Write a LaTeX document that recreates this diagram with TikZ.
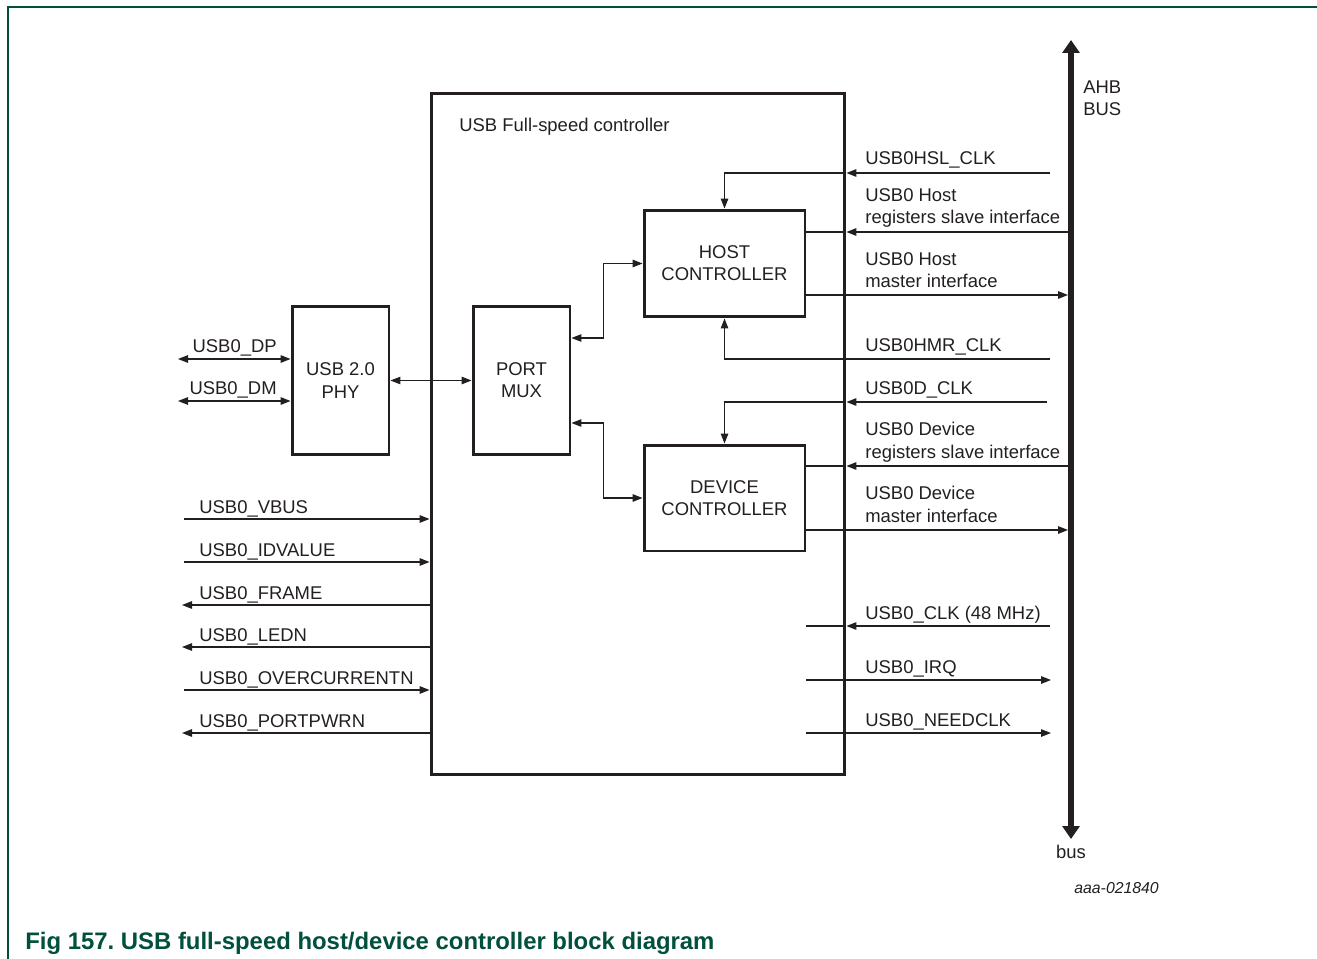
\documentclass[tikz,border=0pt]{standalone}
\usepackage{fontspec}
\setmainfont{Liberation Sans}
\usetikzlibrary{arrows.meta}
\definecolor{ink}{RGB}{35,31,32}
\definecolor{nxpgreen}{RGB}{0,80,60}

\begin{document}
\begin{tikzpicture}[
  x=0.02cm,y=-0.02cm,
  font=\fontsize{10.5}{12.6}\selectfont,
  every node/.style={text=ink},
  blk/.style={draw=ink,line width=1.7pt,inner sep=0pt,align=center},
  sig/.style={draw=ink,line width=0.75pt},
  lbl/.style={anchor=base west,inner sep=0pt,align=left},
  busline/.style={draw=ink,line width=3.6pt,
    {Triangle[length=2.6mm,width=3.4mm]}-{Triangle[length=2.6mm,width=3.4mm]}},
  >={Triangle[length=2mm,width=1.5mm]}]
\useasboundingbox (0,0) rectangle (1317,959);
\draw[nxpgreen,line width=1.1pt] (8,959) -- (8,7) -- (1317,7);
% blocks
\node[blk,minimum width=8.28cm,minimum height=13.64cm] (ctl) at (638,434) {};
\node[lbl] (ctllbl) at (459,132) {USB Full-speed controller};
\node[blk,minimum width=1.94cm,minimum height=2.98cm] (phy) at (340.5,380.5) {USB 2.0\\PHY};
\node[blk,minimum width=1.94cm,minimum height=2.98cm] (mux) at (521.5,380.5) {PORT\\MUX};
\node[blk,minimum width=3.22cm,minimum height=2.14cm] (host) at (724.5,263.5) {HOST\\CONTROLLER};
\node[blk,minimum width=3.22cm,minimum height=2.12cm] (device) at (724.5,498) {DEVICE\\CONTROLLER};
% AHB bus
\coordinate (busbot) at (1071,839);
\coordinate (bustop) at (1071,40);
\draw[busline] (busbot) -- (bustop);
\node[lbl] (buslbl) at (1083,116) {AHB\\BUS};
\node[anchor=base,inner sep=0pt] (buslow) at (1071,858) {bus};
% left side
\foreach \nm/\y/\t in {dp/359/USB0\_DP, dm/401/USB0\_DM} {
  \coordinate (\nm) at (178,\y);
  \draw[sig,<->] (\nm) -- (\nm -| phy.west);
  \node[anchor=base east,inner sep=0pt] (\nm lbl) at (277,\y-7) {\t};
}
\draw[sig,<->] (phy.east) -- (mux.west);
\foreach \nm/\y/\t in {vbus/519/USB0\_VBUS, idval/562/USB0\_IDVALUE, ovc/690/USB0\_OVERCURRENTN} {
  \coordinate (\nm) at (184,\y);
  \draw[sig,->] (\nm) -- (\nm -| ctl.west);
  \node[lbl] (\nm lbl) at (199,\y-6) {\t};
}
\foreach \nm/\y/\t in {frame/605/USB0\_FRAME, ledn/647/USB0\_LEDN, ppwrn/733/USB0\_PORTPWRN} {
  \coordinate (\nm) at (182,\y);
  \draw[sig,->] (\nm -| ctl.west) -- (\nm);
  \node[lbl] (\nm lbl) at (199,\y-6) {\t};
}
% port mux to controllers
\draw[sig,<->] (mux.east |- 0,338) -- ++(32,0) |- (host.west);
\draw[sig,<->] (mux.east |- 0,423) -- ++(32,0) |- (device.west);
% host side
\coordinate (hslclk) at (1050,173);
\draw[sig,->] (hslclk) -- (hslclk -| ctl.east);
\draw[sig,->] (hslclk -| ctl.east) -| (host.north);
\node[lbl] (hslclklbl) at (865,165) {USB0HSL\_CLK};
\coordinate (hreg) at (1071,232);
\draw[sig,->] (hreg) -- (hreg -| ctl.east);
\draw[sig] (hreg -| ctl.east) -- (hreg -| host.east);
\node[lbl] (hreglbl) at (865,224) {USB0 Host\\registers slave interface};
\coordinate (hmst) at (1068,295);
\draw[sig,->] (hmst -| host.east) -- (hmst);
\node[lbl] (hmstlbl) at (865,288) {USB0 Host\\master interface};
\coordinate (hmrclk) at (1050,359);
\draw[sig,->] (hmrclk) -| (host.south);
\node[lbl] (hmrclklbl) at (865,351) {USB0HMR\_CLK};
% device side
\coordinate (dclk) at (1047,402);
\draw[sig,->] (dclk) -- (dclk -| ctl.east);
\draw[sig,->] (dclk -| ctl.east) -| (device.north);
\node[lbl] (dclklbl) at (865,394) {USB0D\_CLK};
\coordinate (dreg) at (1071,466);
\draw[sig,->] (dreg) -- (dreg -| ctl.east);
\draw[sig] (dreg -| ctl.east) -- (dreg -| device.east);
\node[lbl] (dreglbl) at (865,458) {USB0 Device\\registers slave interface};
\coordinate (dmst) at (1068,530);
\draw[sig,->] (dmst -| device.east) -- (dmst);
\node[lbl] (dmstlbl) at (865,522) {USB0 Device\\master interface};
% clock and status
\coordinate (clk48) at (1050,626);
\draw[sig,->] (clk48) -- (clk48 -| ctl.east);
\draw[sig] (clk48 -| ctl.east) -- (clk48 -| device.east);
\node[lbl] (clk48lbl) at (865,619) {USB0\_CLK (48 MHz)};
\foreach \nm/\y/\t in {irq/680/USB0\_IRQ, needclk/733/USB0\_NEEDCLK} {
  \coordinate (\nm) at (1051,\y);
  \draw[sig,->] (\nm -| device.east) -- (\nm);
  \node[lbl] (\nm lbl) at (865,\y-7) {\t};
}
\node[anchor=base west,inner sep=0pt,font=\fontsize{9}{11}\selectfont\itshape] (figid) at (1074,893) {aaa-021840};
\node[anchor=base west,inner sep=0pt,text=nxpgreen,font=\fontsize{13.6}{16}\selectfont\bfseries] (caption) at (25,949) {Fig 157.\ USB full-speed host/device controller block diagram};
\end{tikzpicture}
\end{document}
